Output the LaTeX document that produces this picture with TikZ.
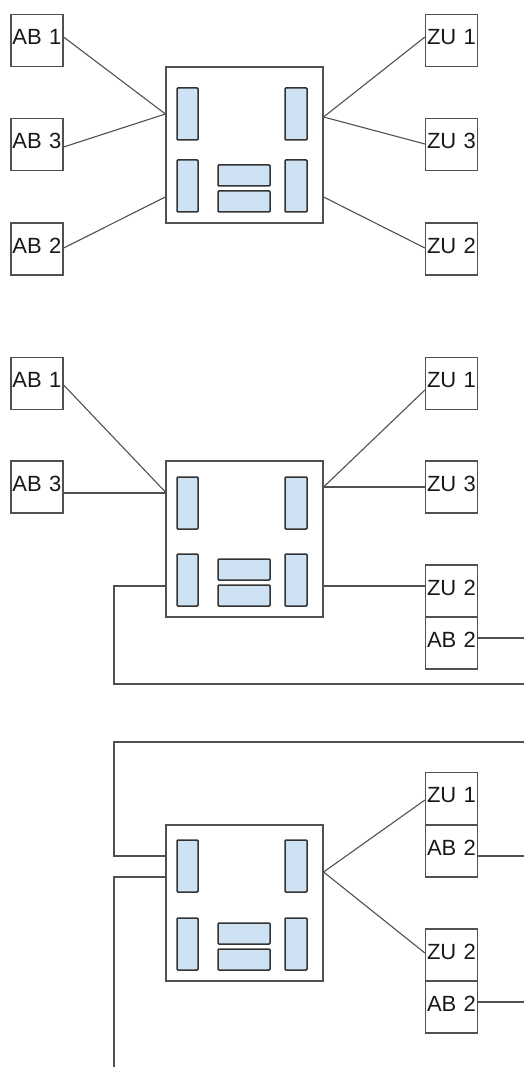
\documentclass[tikz,border=0pt]{standalone}
\usepackage{fontspec}
\setmainfont{Liberation Sans}
\definecolor{linec}{HTML}{505050}
\definecolor{innerline}{HTML}{333333}
\definecolor{innerfill}{HTML}{CFE2F3}
\newcommand\innerrects[3]{%
  \draw[inr] (#1+11,#2+#3) rectangle (#1+32,#2+#3+52);
  \draw[inr] (#1+119,#2+#3) rectangle (#1+141,#2+#3+52);
  \draw[inr] (#1+11,#2+93) rectangle (#1+32,#2+145);
  \draw[inr] (#1+119,#2+93) rectangle (#1+141,#2+145);
  \draw[inr] (#1+52,#2+98) rectangle (#1+104,#2+119);
  \draw[inr] (#1+52,#2+124) rectangle (#1+104,#2+145);
}
\begin{document}
\begin{tikzpicture}[x=1pt,y=-1pt,
  box/.style={draw=linec, line width=1.2pt, minimum width=52pt, minimum height=52pt,
    inner xsep=1.5pt, inner ysep=0pt, text width=49pt, align=left,
    text height=16pt, text depth=8pt, font=\fontsize{22}{24}\selectfont, text=black!90},
  hub/.style={draw=linec, line width=1.2pt, minimum width=157pt, minimum height=156pt, inner sep=0pt},
  inr/.style={draw=innerline, line width=1.5pt, fill=innerfill, rounded corners=1pt},
  con/.style={draw=linec, line width=1.1pt}]
\useasboundingbox (0,0) rectangle (524,1067);

% ---------- panel 1 ----------
\node[box] (ab1) at (37,40.5) {AB 1};
\node[box] (ab3) at (37,144.5) {AB 3};
\node[box] (ab2) at (37,249) {AB 2};
\node[box] (zu1) at (451.5,40.5) {ZU 1};
\node[box] (zu3) at (451.5,144.5) {ZU 3};
\node[box] (zu2) at (451.5,249) {ZU 2};
\node[hub] (c1) at (244.5,145) {};
\innerrects{166}{67}{21}
\draw[con] ([yshift=3.5pt]ab1.east) -- ([yshift=31pt]c1.west);
\draw[con] ([yshift=-2.5pt]ab3.east) -- ([yshift=31pt]c1.west);
\draw[con] ([yshift=1pt]ab2.east) -- ([yshift=-52pt]c1.west);
\draw[con] ([yshift=3.5pt]zu1.west) -- ([yshift=28pt]c1.east);
\draw[con] ([yshift=0.5pt]zu3.west) -- ([yshift=28pt]c1.east);
\draw[con] ([yshift=1pt]zu2.west) -- ([yshift=-52pt]c1.east);

% ---------- panel 2 ----------
\node[box] (ab1b) at (37,383.5) {AB 1};
\node[box] (ab3b) at (37,487) {AB 3};
\node[box] (zu1b) at (451.5,383.5) {ZU 1};
\node[box] (zu3b) at (451.5,487) {ZU 3};
\node[box] (zu2b) at (451.5,591) {ZU 2};
\node[box] (ab2b) at (451.5,643) {AB 2};
\node[hub] (c2) at (244.5,539) {};
\innerrects{166}{461}{16}
\coordinate (e2a) at (524,638);
\coordinate (e2b) at (524,684);
\draw[con] ([yshift=-1.5pt]ab1b.east) -- ([yshift=47pt]c2.west);
\draw[con] ([yshift=-6pt]ab3b.east) -- ([yshift=46pt]c2.west);
\draw[con] ([yshift=-6.5pt]zu1b.west) -- ([yshift=52pt]c2.east);
\draw[con] (zu3b.west) -- ([yshift=52pt]c2.east);
\draw[con] ([yshift=5pt]zu2b.west) -- ([yshift=-47pt]c2.east);
\draw[con] ([yshift=5pt]ab2b.east) -- (e2a);
\draw[con] ([yshift=-47pt]c2.west) -| (114,684) -- (e2b);

% ---------- panel 3 ----------
\node[box] (zu1c) at (451.5,798.5) {ZU 1};
\node[box] (ab2c) at (451.5,851) {AB 2};
\node[box] (zu2c) at (451.5,955) {ZU 2};
\node[box] (ab2d) at (451.5,1007) {AB 2};
\node[hub] (c3) at (244.5,903) {};
\innerrects{166}{825}{15}
\coordinate (e3a) at (524,742);
\coordinate (e3b) at (114,1067);
\coordinate (e3c) at (524,856);
\coordinate (e3d) at (524,1002);
\draw[con] (e3a) -- (114,742) |- ([yshift=47pt]c3.west);
\draw[con] ([yshift=26pt]c3.west) -| (e3b);
\draw[con] ([yshift=31pt]c3.east) -- ([yshift=-1.5pt]zu1c.west);
\draw[con] ([yshift=31pt]c3.east) -- ([yshift=2pt]zu2c.west);
\draw[con] ([yshift=-5pt]ab2c.east) -- (e3c);
\draw[con] ([yshift=5pt]ab2d.east) -- (e3d);
\end{tikzpicture}
\end{document}
